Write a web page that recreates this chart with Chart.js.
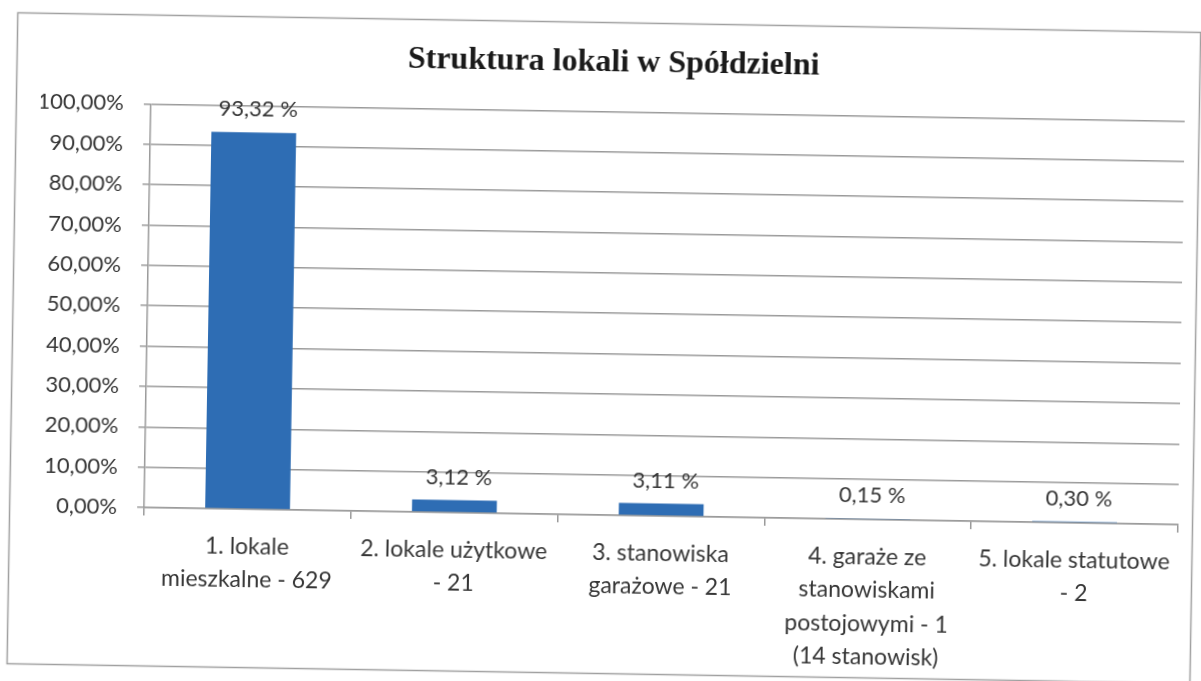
<!DOCTYPE html>
<html>
<head>
<meta charset="utf-8">
<script src="https://cdn.jsdelivr.net/npm/chart.js@4/dist/chart.umd.min.js"></script>
<style>
  html, body { margin: 0; padding: 0; background: #ffffff; overflow: hidden; }
  #wrap { width: 1201px; height: 681px; transform: rotate(0.95deg); transform-origin: 600px 340px; }
</style>
</head>
<body>
<div id="wrap"><canvas id="c" width="1201" height="681"></canvas></div>
<script>
const chartTitle = "Struktura lokali w Spółdzielni";
const categories = [
  ["1. lokale", "mieszkalne - 629"],
  ["2. lokale użytkowe", "- 21"],
  ["3. stanowiska", "garażowe - 21"],
  ["4. garaże ze", "stanowiskami", "postojowymi - 1", "(14 stanowisk)"],
  ["5. lokale statutowe", "- 2"]
];
const shares = [93.32, 3.12, 3.11, 0.15, 0.30];
const yMin = 0, yMax = 100, yStep = 10;

const fmtTick = v => v + ",00%";
const fmtLabel = v => v.toFixed(2).replace(".", ",") + " %";
const textColor = "#363636";
const gridColor = "#9a9a9a";

const framePlugin = {
  id: "frame",
  beforeDraw(chart) {
    const ctx = chart.ctx;
    ctx.save();
    ctx.fillStyle = "#ffffff";
    ctx.fillRect(0, 0, chart.width, chart.height);
    ctx.strokeStyle = "#a0a0a0";
    ctx.lineWidth = 1.5;
    ctx.strokeRect(12.5, 22.5, 1183, 651);
    ctx.restore();
  }
};

const valueLabels = {
  id: "valueLabels",
  afterDatasetsDraw(chart) {
    const ctx = chart.ctx;
    const meta = chart.getDatasetMeta(0);
    ctx.save();
    ctx.font = "22px Lato, 'Open Sans', sans-serif";
    ctx.fillStyle = textColor;
    ctx.textAlign = "center";
    ctx.textBaseline = "middle";
    meta.data.forEach((bar, i) => {
      ctx.fillText(fmtLabel(shares[i]), bar.x + 4, bar.y - 23);
    });
    ctx.restore();
  }
};

new Chart(document.getElementById("c"), {
  type: "bar",
  data: {
    labels: categories,
    datasets: [{
      data: shares,
      backgroundColor: "#2E6DB4",
      borderWidth: 0,
      barPercentage: 1,
      categoryPercentage: 0.41
    }]
  },
  options: {
    responsive: false,
    animation: false,
    devicePixelRatio: 1,
    layout: { padding: { left: 37, right: 20, top: 0, bottom: 16 } },
    plugins: {
      legend: { display: false },
      tooltip: { enabled: false },
      title: {
        display: true,
        text: chartTitle,
        color: "#1a1a1a",
        font: { family: "'Liberation Serif', 'Times New Roman', serif", size: 32, weight: "bold" },
        padding: { top: 44, bottom: 29 }
      }
    },
    scales: {
      x: {
        grid: { display: true, drawOnChartArea: false, offset: true, tickLength: 8, color: gridColor, lineWidth: 1.5 },
        border: { display: true, color: gridColor, width: 1.5 },
        ticks: {
          color: textColor,
          font: { family: "Lato, 'Open Sans', sans-serif", size: 23, lineHeight: 1.45 },
          padding: 13,
          maxRotation: 0,
          autoSkip: false
        },
        afterFit(scale) { scale.height = 150; }
      },
      y: {
        min: yMin, max: yMax,
        grid: { color: gridColor, lineWidth: 1.5, tickLength: 7, drawTicks: true },
        border: { display: true, color: gridColor, width: 1.5 },
        ticks: {
          stepSize: yStep,
          color: textColor,
          font: { family: "Lato, 'Open Sans', sans-serif", size: 22 },
          padding: 20,
          callback: v => fmtTick(v)
        },
        afterFit(scale) { scale.width = 110; }
      }
    }
  },
  plugins: [framePlugin, valueLabels]
});
</script>
</body>
</html>
